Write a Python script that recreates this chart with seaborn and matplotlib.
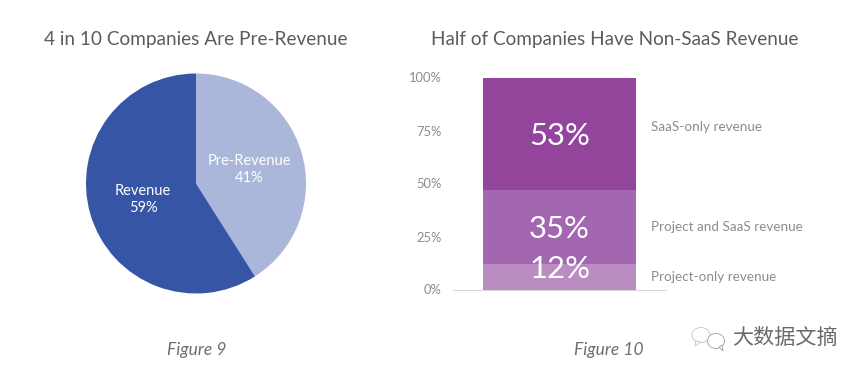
import matplotlib
matplotlib.use('Agg')
import matplotlib.pyplot as plt
from matplotlib.patches import Ellipse, Polygon
import numpy as np
import seaborn as sns

pie_labels = ['Pre-Revenue', 'Revenue']
pie_values = [41, 59]
pie_colors = ['#aab7da', '#3755a5']

bar_labels = ['Project-only revenue', 'Project and SaaS revenue', 'SaaS-only revenue']
bar_values = [12, 35, 53]
bar_colors = ['#bb8cc2', '#a267ae', '#93459c']
y_ticks = [0, 25, 50, 75, 100]

W, H = 865, 375

sns.set_theme(style='white')
plt.rcParams['font.family'] = ['Lato', 'Noto Sans CJK SC', 'DejaVu Sans']

fig = plt.figure(figsize=(W / 100, H / 100), dpi=100, facecolor='white')


def px_axes(x0, y0, x1, y1):
    # pixel box measured from the top left of the picture
    return fig.add_axes([x0 / W, 1 - y1 / H, (x1 - x0) / W, (y1 - y0) / H])


# pie on the left
ax1 = px_axes(86, 73.5, 306, 293.5)
ax1.pie(pie_values, colors=pie_colors, startangle=90, counterclock=False, radius=1,
        wedgeprops={'linewidth': 0})
ax1.set_xlim(-1, 1)
ax1.set_ylim(-1, 1)

# stacked bar on the right
ax2 = px_axes(453, 77.5, 666, 289.5)
bottoms = np.cumsum([0] + bar_values[:-1])
for val, bot, col in zip(bar_values, bottoms, bar_colors):
    sns.barplot(x=['all'], y=[val], bottom=bot, color=col, saturation=1, width=0.718,
                linewidth=0, ax=ax2)
ax2.set_xlim(-0.5, 0.5)
ax2.set_ylim(0, 100)
ax2.set_yticks(y_ticks)
ax2.set_yticklabels([f'{t}%' for t in y_ticks], color='#8c8c8c', fontsize=9.3)
ax2.set_xticks([])
ax2.set_xlabel('')
ax2.set_ylabel('')
ax2.tick_params(axis='y', length=0, pad=8)
sns.despine(ax=ax2, left=True)
ax2.spines['bottom'].set_color('#d9d9d9')
ax2.spines['bottom'].set_linewidth(0.8)
ax2.patch.set_alpha(0)

# everything else in picture pixels
top = fig.add_axes([0, 0, 1, 1], facecolor='none')
top.set_xlim(0, W)
top.set_ylim(H, 0)
top.axis('off')

# the big numbers sit off centre in their segments in the original
big_y = [269, 229, 136]
for val, y in zip(bar_values, big_y):
    top.text(559.5, y, f'{val}%', color='white', fontsize=22.3, ha='center', va='center')

top.text(196, 39, '4 in 10 Companies Are Pre-Revenue', color='#5c5c5c', fontsize=13.7, ha='center', va='center')
top.text(615, 39, 'Half of Companies Have Non-SaaS Revenue', color='#5c5c5c', fontsize=13.6, ha='center', va='center')
top.text(249, 161, pie_labels[0], color='white', fontsize=10.5, ha='center', va='center')
top.text(249, 178, f'{pie_values[0]}%', color='white', fontsize=10.5, ha='center', va='center')
top.text(143, 191, pie_labels[1], color='white', fontsize=10.5, ha='center', va='center')
top.text(143, 208, f'{pie_values[1]}%', color='white', fontsize=10.5, ha='center', va='center')

label_y = [277, 227, 127]
for lab, y in zip(bar_labels, label_y):
    top.text(651, y, lab, color='#8c8c8c', fontsize=9.75, ha='left', va='center')

top.text(196.5, 350, 'Figure 9', color='#6e6e6e', fontsize=12.5, style='italic', ha='center', va='center')
top.text(609, 350, 'Figure 10', color='#6e6e6e', fontsize=12.5, style='italic', ha='center', va='center')

# watermark
top.add_patch(Ellipse((701, 335), 18, 15, fc='white', ec='#c4c4c4', lw=0.6))
top.add_patch(Polygon([[696, 341], [695, 346], [701, 342]], fc='white', ec='#c4c4c4', lw=0.6))
top.add_patch(Ellipse((716, 341), 17, 15, fc='white', ec='#a0a0a0', lw=0.6))
top.add_patch(Polygon([[719, 347], [723, 351], [722, 345]], fc='white', ec='#a0a0a0', lw=0.6))
top.text(732, 338, '大数据文摘', color='#6a6a6a', fontsize=15.2, ha='left', va='center')

fig.savefig('out.png', dpi=100)
